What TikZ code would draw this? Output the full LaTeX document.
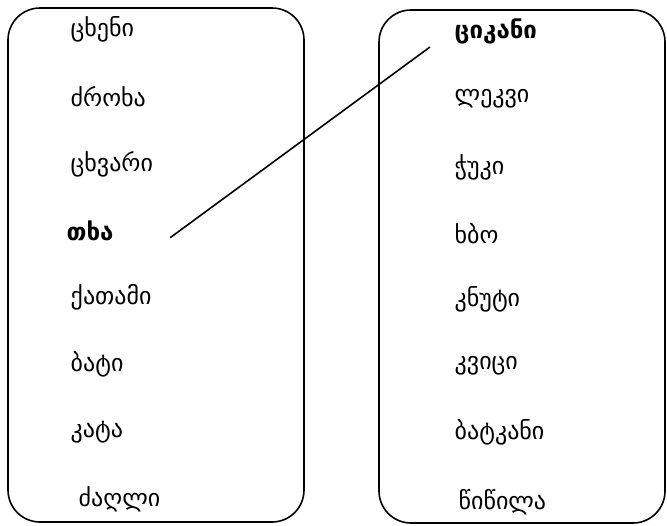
\documentclass[tikz,border=0pt]{standalone}
\usepackage{fontspec}
\newfontfamily\geofont{DejaVu Sans}
\begin{document}
\begin{tikzpicture}[x=0.75pt,y=-0.75pt,font=\geofont\fontsize{18}{20}\selectfont]
\useasboundingbox (0,0) rectangle (667,525);

\draw[line width=1.2pt,rounded corners=24pt] (8,8) rectangle (304,522);
\draw[line width=1.2pt,rounded corners=24pt] (379,10) rectangle (665,523);
\node[anchor=west] (v1) at (66,29) {ცხენი};
\node[anchor=west] (v2) at (66,97) {ძროხა};
\node[anchor=west] (v3) at (66,164) {ცხვარი};
\node[anchor=west,font=\geofont\bfseries\fontsize{18}{20}\selectfont] (v4) at (62,231) {თხა};
\node[anchor=west] (v5) at (66,297) {ქათამი};
\node[anchor=west] (v6) at (66,364) {ბატი};
\node[anchor=west] (v7) at (66,432) {კატა};
\node[anchor=west] (v8) at (74,499) {ძაღლი};
\node[anchor=west,font=\geofont\bfseries\fontsize{18}{20}\selectfont] (w1) at (450,31) {ციკანი};
\node[anchor=west] (w2) at (450,99) {ლეკვი};
\node[anchor=west] (w3) at (450,167) {ჭუკი};
\node[anchor=west] (w4) at (450,234) {ხბო};
\node[anchor=west] (w5) at (450,299) {კნუტი};
\node[anchor=west] (w6) at (450,366) {კვიცი};
\node[anchor=west] (w7) at (450,432) {ბატკანი};
\node[anchor=west] (w8) at (454,502) {წიწილა};
\draw[line width=1.2pt] ([xshift=39pt,yshift=-5pt]v4.east) -- ([xshift=-15pt,yshift=-12pt]w1.west);
\end{tikzpicture}
\end{document}
